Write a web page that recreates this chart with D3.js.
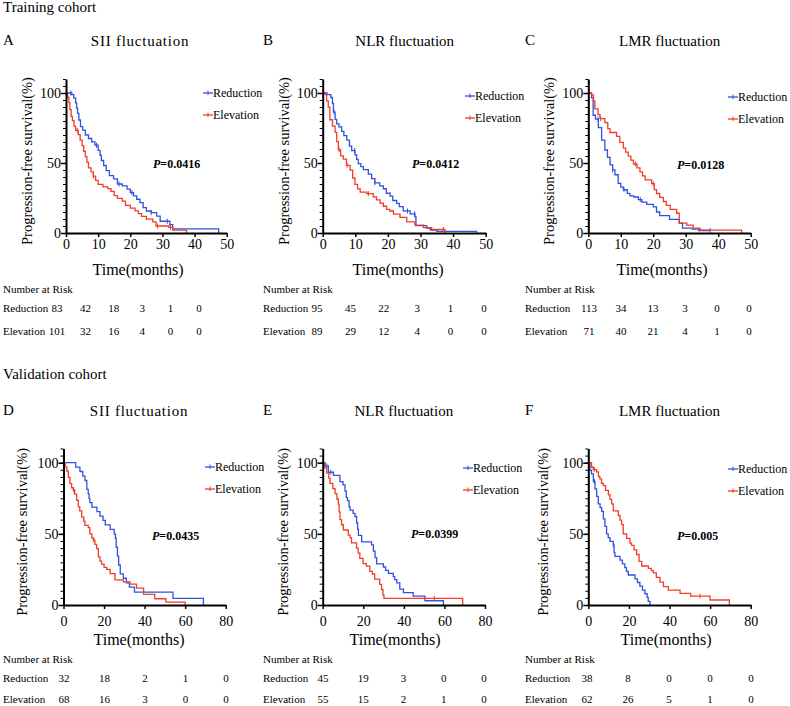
<!DOCTYPE html>
<html><head><meta charset="utf-8">
<script src="https://cdn.jsdelivr.net/npm/d3@7"></script>
<style>
body{margin:0;background:#fff;}
text{font-family:"Liberation Serif","Times New Roman",serif;fill:#000;}
</style></head><body>
<svg id="chart" width="790" height="706"></svg>
<script>
// ---------------- DATA ----------------
const cohortLabels = ["Training cohort", "Validation cohort"];
const panelLetters = ["A", "B", "C", "D", "E", "F"];
const panelTitles = ["SII fluctuation", "NLR fluctuation", "LMR fluctuation", "SII fluctuation", "NLR fluctuation", "LMR fluctuation"];
const seriesNames = ["Reduction", "Elevation"];
const pValues = ["0.0416", "0.0412", "0.0128", "0.0435", "0.0399", "0.005"];
const trainingTicks = [0, 10, 20, 30, 40, 50];
const validationTicks = [0, 20, 40, 60, 80];
const yTickValues = [0, 50, 100];
const yAxisLabel = "Progression-free survival(%)";
const xAxisLabel = "Time(months)";
const riskTitle = "Number at Risk";

// number at risk
const riskA = [[83, 42, 18, 3, 1, 0], [101, 32, 16, 4, 0, 0]];
const riskB = [[95, 45, 22, 3, 1, 0], [89, 29, 12, 4, 0, 0]];
const riskC = [[113, 34, 13, 3, 0, 0], [71, 40, 21, 4, 1, 0]];
const riskD = [[32, 18, 2, 1, 0], [68, 16, 3, 0, 0]];
const riskE = [[45, 19, 3, 0, 0], [55, 15, 2, 1, 0]];
const riskF = [[38, 8, 0, 0, 0], [62, 26, 5, 1, 0]];

// Kaplan-Meier steps [time (months), survival (%)]
const kmA_reduction = [[0,100],[1.8,98.8],[2.4,96.4],[3.0,93.0],[3.3,89.2],[3.6,85.5],[4.0,80.7],[4.5,76.0],[5.2,73.5],[6.0,70.0],[7.0,67.5],[8.0,65.1],[9.0,62.7],[10.0,59.0],[10.6,55.4],[11.0,51.8],[11.7,48.2],[12.5,44.6],[13.5,41.0],[14.8,38.6],[16.0,35.0],[17.5,33.7],[19.0,31.3],[20.0,28.9],[21.0,26.5],[22.0,24.1],[23.0,21.7],[24.0,18.1],[25.0,15.7],[26.5,14.5],[28.2,12.0],[29.3,8.4],[32.3,6.0],[33.2,3.0],[47.5,0]];
const kmA_elevation = [[0,100],[0.5,97.0],[0.9,93.1],[1.2,88.1],[1.6,83.2],[2.0,80.2],[2.5,76.2],[3.0,73.3],[3.8,70.3],[4.4,66.3],[5.0,62.4],[5.5,58.4],[6.0,54.5],[6.5,50.5],[7.0,46.5],[7.8,43.6],[8.5,40.6],[9.2,37.6],[10.0,34.7],[11.5,33.0],[13.0,31.7],[14.0,29.7],[15.0,26.7],[16.0,24.8],[17.5,22.8],[18.5,19.8],[20.0,17.8],[21.5,15.8],[22.5,13.9],[23.5,11.9],[25.0,9.9],[27.0,7.9],[28.0,5.0],[32.0,4.0],[33.2,2.0],[37.5,0]];
const kmB_reduction = [[0,100],[1.3,98.9],[2.5,96.8],[3.0,92.6],[3.3,86.3],[3.8,81.1],[4.3,77.9],[5.0,75.8],[5.8,72.6],[6.5,69.5],[7.4,66.3],[8.2,62.1],[8.9,58.9],[9.9,55.8],[10.4,52.6],[10.9,49.5],[11.7,47.4],[12.5,45.3],[14.0,42.1],[15.0,38.9],[16.0,35.8],[17.5,33.7],[18.6,31.6],[19.5,28.4],[20.7,26.3],[21.5,23.2],[22.7,21.1],[23.5,18.9],[24.7,15.8],[26.8,13.7],[28.3,11.6],[28.6,5.3],[31.9,3.5],[33.0,2.1],[35.0,1.2],[47.2,0]];
const kmB_elevation = [[0,100],[0.7,98.9],[1.2,94.4],[1.7,89.9],[2.2,80.9],[3.0,76.4],[3.8,71.9],[4.3,65.2],[4.8,59.6],[5.5,55.1],[6.3,52.8],[7.3,48.3],[8.4,44.9],[9.2,39.3],[9.9,34.8],[10.7,31.5],[11.5,29.2],[13.5,28.1],[15.5,25.8],[16.5,23.6],[17.6,21.3],[18.6,19.1],[19.6,16.9],[20.6,15.7],[21.7,13.5],[23.7,11.2],[25.8,7.9],[28.3,5.6],[30.9,3.8],[33.4,2.5],[37.5,0]];
const kmC_reduction = [[0,100],[1.0,96.5],[1.5,84.1],[2.2,81.4],[3.1,75.2],[4.1,66.4],[5.1,59.3],[5.9,54.0],[6.7,48.7],[7.5,45.1],[8.2,41.6],[9.2,35.4],[10.0,32.7],[10.8,30.9],[12.0,28.3],[12.8,26.5],[14.0,25.7],[15.4,23.9],[16.5,22.1],[18.0,20.4],[20.0,18.6],[21.0,15.0],[22.0,12.4],[25.0,9.7],[28.0,7.1],[29.0,3.5],[32.0,2.7],[34.0,1.8],[37.5,1.8]];
const kmC_elevation = [[0,100],[1.0,98.6],[1.6,94.4],[2.0,88.7],[3.0,84.5],[3.6,81.7],[5.1,78.9],[6.0,74.6],[6.7,71.8],[8.7,69.0],[9.7,64.8],[10.8,60.6],[11.5,57.7],[12.3,54.9],[13.1,52.1],[13.9,49.3],[15.0,46.5],[15.9,43.7],[16.7,40.8],[17.5,38.0],[19.5,35.2],[20.3,31.0],[21.0,28.2],[22.0,25.4],[23.1,22.5],[24.0,19.7],[25.2,16.9],[27.2,14.1],[28.0,7.0],[30.3,5.6],[32.3,3.5],[34.4,2.0],[47.2,0]];
const kmD_reduction = [[0,100],[6.0,96.9],[8.1,93.8],[9.5,90.6],[10.6,87.5],[11.5,81.3],[12.2,78.1],[12.6,75.0],[13.0,71.9],[14.0,68.8],[16.5,65.6],[18.0,62.5],[19.5,59.4],[20.6,56.3],[23.0,53.1],[25.0,50.0],[25.6,46.9],[26.0,40.6],[26.6,34.4],[27.2,28.1],[28.0,21.9],[29.5,18.8],[31.0,15.6],[32.5,12.5],[35.0,9.0],[54.0,4.7],[69.0,0]];
const kmD_elevation = [[0,100],[0.8,97.1],[1.6,94.1],[2.4,89.7],[3.2,85.3],[4.0,82.4],[4.8,80.9],[5.5,77.9],[6.5,73.5],[7.3,69.1],[8.0,66.2],[9.0,61.8],[10.0,58.8],[10.6,55.9],[12.2,54.4],[13.0,50.0],[14.0,47.1],[14.7,45.6],[15.5,42.6],[16.3,39.7],[17.2,33.8],[18.0,30.9],[18.8,28.7],[20.0,26.5],[21.3,25.0],[23.0,22.1],[25.4,17.6],[29.5,16.2],[32.8,14.7],[36.0,11.8],[39.5,7.4],[45.0,4.4],[50.5,2.0],[60.0,0]];
const kmE_reduction = [[0,100],[1.1,97.8],[2.8,93.3],[5.3,91.1],[8.5,86.7],[10.0,84.4],[11.0,80.0],[11.6,75.6],[12.2,73.3],[13.0,68.9],[13.5,66.7],[15.0,64.4],[15.9,62.2],[16.7,57.8],[17.2,53.3],[17.6,48.9],[19.2,44.4],[24.1,42.2],[25.0,37.8],[25.8,33.3],[26.6,28.9],[29.9,26.7],[31.0,24.4],[32.4,22.2],[34.8,20.0],[35.5,17.8],[36.5,15.6],[38.0,11.1],[39.8,8.7],[44.6,6.3],[50.4,3.0],[59.5,0]];
const kmE_elevation = [[0,100],[1.0,96.4],[2.0,92.7],[3.0,89.1],[3.6,85.5],[5.0,81.8],[6.1,78.2],[7.0,74.5],[7.7,70.9],[8.1,65.5],[8.5,60.0],[9.3,56.4],[10.2,52.7],[12.6,49.1],[13.5,47.3],[14.2,43.6],[16.7,40.0],[17.5,36.4],[18.3,32.7],[19.9,29.1],[21.5,27.3],[23.2,23.6],[24.5,21.8],[25.6,18.2],[28.1,14.5],[29.0,10.9],[29.7,7.0],[30.2,4.7],[69.0,0]];
const kmF_reduction = [[0,100],[0.8,94.7],[1.6,92.1],[2.5,86.8],[3.3,81.6],[4.1,76.3],[4.9,71.1],[5.8,68.4],[6.6,65.8],[7.4,60.5],[8.2,55.3],[9.0,50.0],[9.8,47.4],[10.7,44.7],[12.3,42.1],[12.7,36.8],[13.1,34.2],[15.6,31.6],[16.8,28.9],[18.0,26.3],[18.8,23.7],[19.7,21.1],[23.0,18.4],[24.2,15.8],[25.4,13.2],[26.7,10.5],[27.9,7.9],[29.0,5.3],[29.5,2.6],[30.4,0]];
const kmF_elevation = [[0,100],[1.6,96.8],[2.5,95.2],[4.1,93.5],[5.0,90.3],[5.7,88.7],[6.5,85.5],[7.4,83.9],[8.5,80.6],[9.9,77.4],[10.7,74.2],[11.5,71.0],[12.3,66.1],[14.8,62.9],[15.6,59.7],[16.4,56.5],[17.2,50.0],[18.9,46.8],[20.5,43.5],[21.3,41.9],[22.5,38.7],[23.8,35.5],[25.0,30.6],[26.3,27.4],[29.6,25.8],[31.0,24.2],[32.0,22.6],[33.5,19.4],[35.3,16.1],[37.0,12.9],[39.4,10.5],[45.2,8.2],[50.4,6.3],[60.0,3.5],[69.5,0]];

// censor times (months)
const censorA = [[1.5, 9.5, 16.5, 20.5, 26.5, 31.5], [3.5, 8.5, 28.5, 32.5]];
const censorB = [[3.5, 9.8, 16.0, 26.0, 28.2], [5.0, 7.5, 14.0, 37.0]];
const censorC = [[3.0, 7.5, 11.0, 16.0, 37.5], [3.8, 14.5, 20.0]];
const censorD = [[], [5.0, 15.0]];
const censorE = [[2.0, 4.0], [55.0]];
const censorF = [[3.0, 12.5], [3.0, 55.0]];

// ---------------- LAYOUT ----------------
const colors = ["#2f52e0", "#f03c28"];
const rowT = {yb:233, yt:93, titleY:46, tickY:249, timeY:275, narY:293, r1:312, r2:335};
const rowV = {yb:605, yt:462.7, titleY:416, tickY:626, timeY:645, narY:663, r1:682, r2:703};
const panels = [
  {row:rowT, x0:66, x1:226.7, ticks:trainingTicks, dom:50, letterX:3, titleX:140, titleLS:0.75, yLabX:27, timeX:138, rowX:3, tab:[57,199], legX:203, legY:93, pX:153, pY:168, curves:[kmA_reduction,kmA_elevation], risk:riskA, cens:censorA},
  {row:rowT, x0:322.7, x1:485.7, ticks:trainingTicks, dom:50, letterX:263, titleX:404.7, titleLS:0, yLabX:283.5, timeX:398, rowX:263, tab:[317,484], legX:465, legY:96, pX:412, pY:168, curves:[kmB_reduction,kmB_elevation], risk:riskB, cens:censorB},
  {row:rowT, x0:588.3, x1:750.7, ticks:trainingTicks, dom:50, letterX:525, titleX:669.7, titleLS:0, yLabX:548.5, timeX:662, rowX:525, tab:[589,749], legX:728, legY:97, pX:677, pY:169, curves:[kmC_reduction,kmC_elevation], risk:riskC, cens:censorC},
  {row:rowV, x0:63.5, x1:225.7, ticks:validationTicks, dom:80, letterX:3, titleX:139, titleLS:0.75, yLabX:22, timeX:139, rowX:3, tab:[64,226], legX:205, legY:467, pX:152, pY:540, curves:[kmD_reduction,kmD_elevation], risk:riskD, cens:censorD},
  {row:rowV, x0:322.7, x1:485, ticks:validationTicks, dom:80, letterX:263, titleX:403.8, titleLS:0, yLabX:283, timeX:395, rowX:263, tab:[323,484], legX:463, legY:468, pX:411, pY:538, curves:[kmE_reduction,kmE_elevation], risk:riskE, cens:censorE},
  {row:rowV, x0:588.3, x1:750.7, ticks:validationTicks, dom:80, letterX:525, titleX:669.5, titleLS:0, yLabX:543, timeX:666, rowX:525, tab:[587,751], legX:728, legY:469, pX:677, pY:540, curves:[kmF_reduction,kmF_elevation], risk:riskF, cens:censorF}
];

const svg = d3.select("#chart");
svg.append("rect").attr("width",790).attr("height",706).attr("fill","#fff");

// cohort labels
svg.append("text").attr("x",3).attr("y",12).attr("font-size",15).text(cohortLabels[0]);
svg.append("text").attr("x",3).attr("y",379).attr("font-size",15).text(cohortLabels[1]);

function survAt(curve, t){
  let s = curve[0][1];
  for (const d of curve){ if (d[0] <= t) s = d[1]; else break; }
  return s;
}

panels.forEach((p, i) => {
  const R = p.row;
  const x = d3.scaleLinear().domain([0, p.dom]).range([p.x0, p.x1]);
  const unit = (R.yb - R.yt) / 100;
  const y = d3.scaleLinear().domain([0, 110]).range([R.yb, R.yb - unit*110]);
  const g = svg.append("g");

  // letter + title
  g.append("text").attr("x", p.letterX).attr("y", R.titleY - 1).attr("font-size",15).text(panelLetters[i]);
  g.append("text").attr("x", p.titleX).attr("y", R.titleY).attr("font-size",15).attr("letter-spacing", p.titleLS).attr("text-anchor","middle").text(panelTitles[i]);

  // curves
  const line = d3.line().x(d => x(d[0])).y(d => y(d[1])).curve(d3.curveStepAfter);
  p.curves.forEach((c, k) => {
    g.append("path").attr("d", line(c)).attr("fill","none").attr("stroke", colors[k]).attr("stroke-width",1.3);
    g.selectAll(null).data(p.cens[k]).enter().append("line")
      .attr("x1", t => x(t)).attr("x2", t => x(t))
      .attr("y1", t => y(survAt(c,t)) - 2.5).attr("y2", t => y(survAt(c,t)) + 2.5)
      .attr("stroke", colors[k]).attr("stroke-width",1);
  });

  // y axis minor
  g.append("g").attr("transform",`translate(${p.x0},0)`)
    .call(d3.axisLeft(y).tickValues(d3.range(0,111,5)).tickSize(3).tickSizeOuter(0).tickFormat(""))
    .call(a => a.select(".domain").remove())
    .call(a => a.selectAll("line").attr("stroke","#000").attr("stroke-width",1));
  // y axis major
  const ya = g.append("g").attr("transform",`translate(${p.x0},0)`)
    .call(d3.axisLeft(y).tickValues(yTickValues).tickSize(5).tickSizeOuter(0));
  ya.select(".domain").attr("stroke","#000").attr("stroke-width",2);
  ya.selectAll("line").attr("stroke","#000").attr("stroke-width",1.5);
  ya.selectAll("text").attr("font-size",14).attr("font-family","Liberation Serif").attr("x",-5).attr("dy","0.35em").attr("fill","#000");

  // x axis
  const xa = g.append("g").attr("transform",`translate(0,${R.yb})`)
    .call(d3.axisBottom(x).tickValues(p.ticks).tickSize(4).tickSizeOuter(0));
  xa.select(".domain").attr("stroke","#000").attr("stroke-width",2);
  xa.selectAll("line").attr("stroke","#000").attr("stroke-width",1.5);
  xa.selectAll("text").attr("font-size",14).attr("font-family","Liberation Serif").attr("y", R.tickY - R.yb).attr("dy",null).attr("fill","#000");

  // axis labels
  g.append("text").attr("transform",`translate(${p.yLabX},${(R.yb+R.yt)/2 - 2}) rotate(-90)`)
    .attr("text-anchor","middle").attr("dominant-baseline","central").attr("font-size",14.5).text(yAxisLabel);
  g.append("text").attr("x", p.timeX).attr("y", R.timeY).attr("text-anchor","middle").attr("font-size",16).text(xAxisLabel);

  // legend
  seriesNames.forEach((nm, k) => {
    const ly = p.legY + k*22;
    g.append("line").attr("x1",p.legX).attr("x2",p.legX+10).attr("y1",ly).attr("y2",ly).attr("stroke",colors[k]).attr("stroke-width",1.3);
    g.append("line").attr("x1",p.legX+5).attr("x2",p.legX+5).attr("y1",ly-2.5).attr("y2",ly+2).attr("stroke",colors[k]).attr("stroke-width",1);
    g.append("text").attr("x",p.legX+10).attr("y",ly+4).attr("font-size",12).text(nm);
  });

  // p value
  const pt = g.append("text").attr("x",p.pX).attr("y",p.pY).attr("font-size",12).attr("font-weight","bold");
  pt.append("tspan").attr("font-style","italic").text("P");
  pt.append("tspan").text("=" + pValues[i]);

  // number at risk
  g.append("text").attr("x",p.rowX).attr("y",R.narY).attr("font-size",11).text(riskTitle);
  const tx = d3.scaleLinear().domain([0, p.risk[0].length-1]).range(p.tab);
  p.risk.forEach((vals, k) => {
    const ry = k === 0 ? R.r1 : R.r2;
    g.append("text").attr("x",p.rowX).attr("y",ry).attr("font-size",11).text(seriesNames[k]);
    g.selectAll(null).data(vals).enter().append("text")
      .attr("x",(v,j) => tx(j)).attr("y",ry).attr("text-anchor","middle").attr("font-size",11).text(v => v);
  });
});
</script>
</body></html>
